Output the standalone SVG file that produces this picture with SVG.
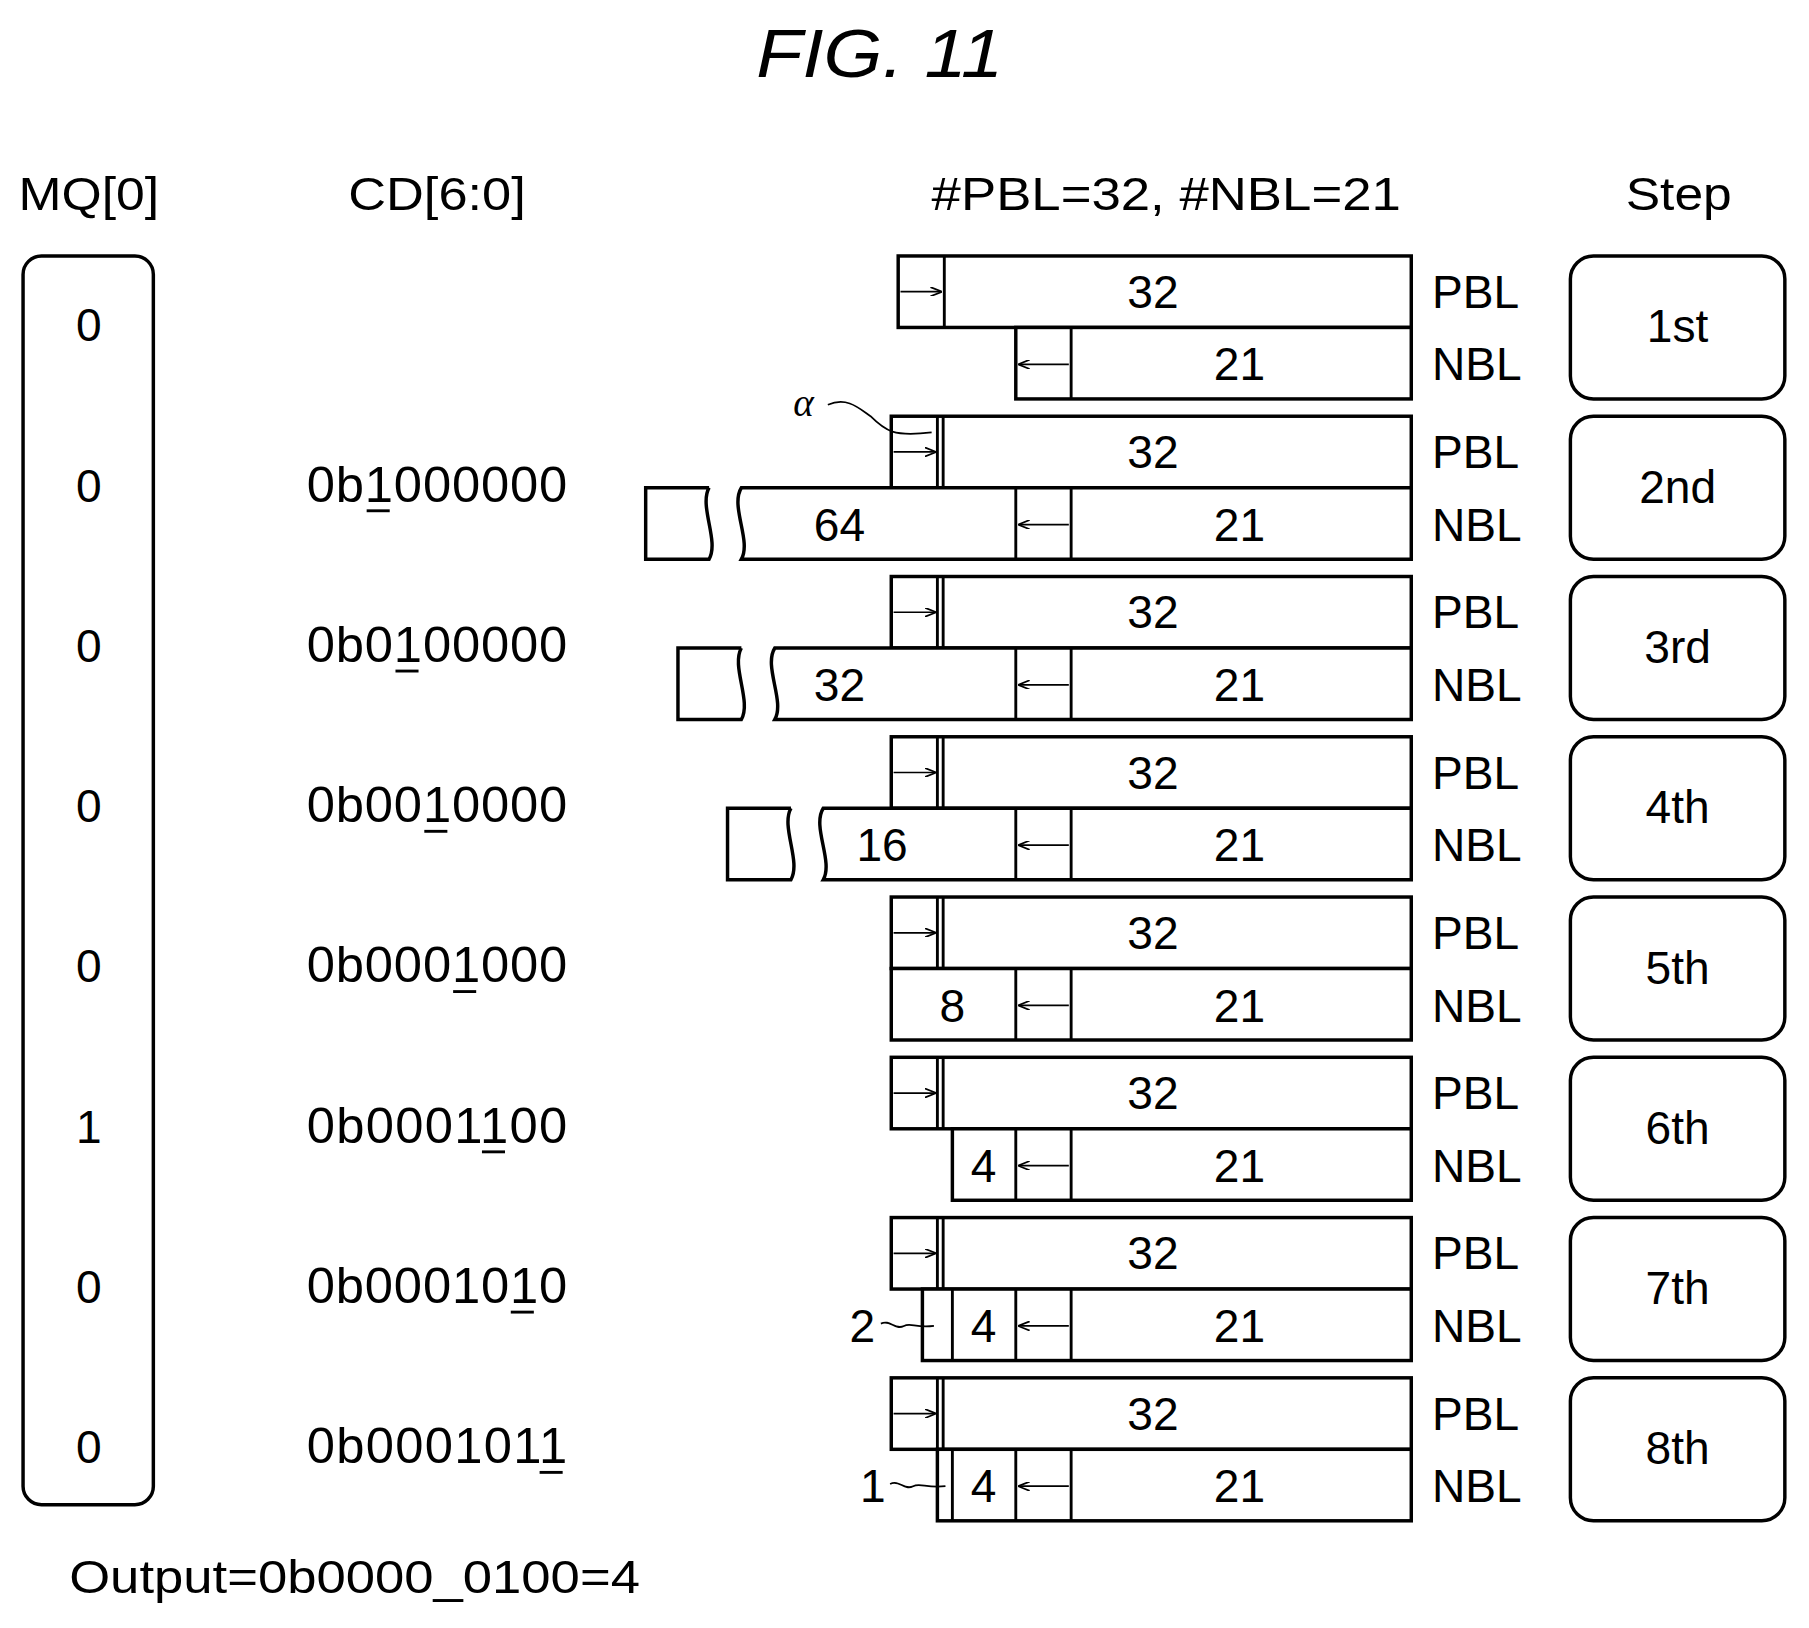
<svg xmlns="http://www.w3.org/2000/svg" width="1809" height="1628" viewBox="0 0 1809 1628">
<defs>
<marker id="ah" markerWidth="10" markerHeight="8" refX="9" refY="4" orient="auto" markerUnits="userSpaceOnUse"><path d="M0,0 L10,4 L0,8" fill="none" stroke="#000" stroke-width="1.5"/></marker>
</defs>
<style>
text{font-family:"Liberation Sans",Arial,sans-serif;fill:#000}
.t{font-size:40px;text-anchor:middle}
.l{font-size:40px}
.b{fill:#fff;stroke:#000;stroke-width:3}
.ln{stroke:#000;stroke-width:2.5;fill:none}
.th{stroke:#000;stroke-width:1.5;fill:none}
</style>
<rect width="1809" height="1628" fill="#fff"/>
<g transform="scale(1.153)">
<text x="656" y="67" font-size="60" font-style="italic" textLength="214" lengthAdjust="spacingAndGlyphs">FIG.  11</text>
<g id="headers">
<text class="l" x="16" y="182" textLength="122" lengthAdjust="spacingAndGlyphs">MQ[0]</text>
<text class="l" x="302" y="182" textLength="154" lengthAdjust="spacingAndGlyphs">CD[6:0]</text>
<text class="l" x="808" y="182" textLength="407" lengthAdjust="spacingAndGlyphs">#PBL=32, #NBL=21</text>
<text class="l" x="1410" y="182" textLength="92" lengthAdjust="spacingAndGlyphs">Step</text>
</g>
<g id="mq">
<rect class="b" x="20" y="222" width="113" height="1083" rx="16"/>
<text class="t" x="77" y="296">0</text>
<text class="t" x="77" y="435">0</text>
<text class="t" x="77" y="574">0</text>
<text class="t" x="77" y="713">0</text>
<text class="t" x="77" y="852">0</text>
<text class="t" x="77" y="991">1</text>
<text class="t" x="77" y="1130">0</text>
<text class="t" x="77" y="1269">0</text>
</g>
<g id="cd" font-size="44">
<text x="266" y="435" font-size="44" textLength="226">0b1000000</text><line class="ln" x1="318" y1="443" x2="338" y2="443"/>
<text x="266" y="574" font-size="44" textLength="226">0b0100000</text><line class="ln" x1="343" y1="582" x2="363" y2="582"/>
<text x="266" y="713" font-size="44" textLength="226">0b0010000</text><line class="ln" x1="368" y1="721" x2="388" y2="721"/>
<text x="266" y="852" font-size="44" textLength="226">0b0001000</text><line class="ln" x1="393" y1="860" x2="413" y2="860"/>
<text x="266" y="991" font-size="44" textLength="226">0b0001100</text><line class="ln" x1="418" y1="999" x2="438" y2="999"/>
<text x="266" y="1130" font-size="44" textLength="226">0b0001010</text><line class="ln" x1="443" y1="1138" x2="463" y2="1138"/>
<text x="266" y="1269" font-size="44" textLength="226">0b0001011</text><line class="ln" x1="468" y1="1277" x2="488" y2="1277"/>
</g>
<g id="step1">
<rect class="b" x="779" y="222" width="445" height="62"/><line class="ln" x1="819" y1="222" x2="819" y2="284"/>
<line class="th" x1="781" y1="253" x2="816" y2="253" marker-end="url(#ah)"/>
<text class="t" x="1000" y="267">32</text><text class="l" x="1242" y="267">PBL</text>
<rect class="b" x="881" y="284" width="343" height="62"/><line class="ln" x1="929" y1="284" x2="929" y2="346"/>
<line class="th" x1="927" y1="316" x2="884" y2="316" marker-end="url(#ah)"/>
<text class="t" x="1075" y="330">21</text><text class="l" x="1242" y="330">NBL</text>
<rect class="b" x="1362" y="222" width="186" height="124" rx="20"/><text class="t" x="1455" y="297">1st</text>
</g>
<g id="step2" transform="translate(0 139)">
<rect class="b" x="773" y="222" width="451" height="62"/><line class="ln" x1="813" y1="222" x2="813" y2="284"/><line class="ln" x1="818" y1="222" x2="818" y2="284"/>
<line class="th" x1="775" y1="253" x2="811" y2="253" marker-end="url(#ah)"/>
<text class="t" x="1000" y="267">32</text><text class="l" x="1242" y="267">PBL</text>
<path class="b" d="M1224 284 H643 C633 300 652 330 643 346 H1224 Z"/>
<path class="b" d="M615 284 H560 V346 H615 C624 330 606 300 615 284"/>
<line class="ln" x1="881" y1="284" x2="881" y2="346"/><line class="ln" x1="929" y1="284" x2="929" y2="346"/>
<line class="th" x1="927" y1="316" x2="884" y2="316" marker-end="url(#ah)"/>
<text class="t" x="728" y="330">64</text>
<text class="t" x="1075" y="330">21</text><text class="l" x="1242" y="330">NBL</text>
<text x="688" y="222" font-size="34" font-style="italic" style="font-family:'Liberation Serif',serif">α</text>
<path class="th" d="M718 212 C735 205 745 215 755 222 C768 235 775 240 808 236"/>
<rect class="b" x="1362" y="222" width="186" height="124" rx="20"/><text class="t" x="1455" y="297">2nd</text>
</g>
<g id="step3" transform="translate(0 278)">
<rect class="b" x="773" y="222" width="451" height="62"/><line class="ln" x1="813" y1="222" x2="813" y2="284"/><line class="ln" x1="818" y1="222" x2="818" y2="284"/>
<line class="th" x1="775" y1="253" x2="811" y2="253" marker-end="url(#ah)"/>
<text class="t" x="1000" y="267">32</text><text class="l" x="1242" y="267">PBL</text>
<path class="b" d="M1224 284 H672 C662 300 681 330 672 346 H1224 Z"/>
<path class="b" d="M643 284 H588 V346 H643 C652 330 634 300 643 284"/>
<line class="ln" x1="881" y1="284" x2="881" y2="346"/><line class="ln" x1="929" y1="284" x2="929" y2="346"/>
<line class="th" x1="927" y1="316" x2="884" y2="316" marker-end="url(#ah)"/>
<text class="t" x="728" y="330">32</text>
<text class="t" x="1075" y="330">21</text><text class="l" x="1242" y="330">NBL</text>
<rect class="b" x="1362" y="222" width="186" height="124" rx="20"/><text class="t" x="1455" y="297">3rd</text>
</g>
<g id="step4" transform="translate(0 417)">
<rect class="b" x="773" y="222" width="451" height="62"/><line class="ln" x1="813" y1="222" x2="813" y2="284"/><line class="ln" x1="818" y1="222" x2="818" y2="284"/>
<line class="th" x1="775" y1="253" x2="811" y2="253" marker-end="url(#ah)"/>
<text class="t" x="1000" y="267">32</text><text class="l" x="1242" y="267">PBL</text>
<path class="b" d="M1224 284 H714 C704 300 723 330 714 346 H1224 Z"/>
<path class="b" d="M686 284 H631 V346 H686 C695 330 677 300 686 284"/>
<line class="ln" x1="881" y1="284" x2="881" y2="346"/><line class="ln" x1="929" y1="284" x2="929" y2="346"/>
<line class="th" x1="927" y1="316" x2="884" y2="316" marker-end="url(#ah)"/>
<text class="t" x="765" y="330">16</text>
<text class="t" x="1075" y="330">21</text><text class="l" x="1242" y="330">NBL</text>
<rect class="b" x="1362" y="222" width="186" height="124" rx="20"/><text class="t" x="1455" y="297">4th</text>
</g>
<g id="step5" transform="translate(0 556)">
<rect class="b" x="773" y="222" width="451" height="62"/><line class="ln" x1="813" y1="222" x2="813" y2="284"/><line class="ln" x1="818" y1="222" x2="818" y2="284"/>
<line class="th" x1="775" y1="253" x2="811" y2="253" marker-end="url(#ah)"/>
<text class="t" x="1000" y="267">32</text><text class="l" x="1242" y="267">PBL</text>
<rect class="b" x="773" y="284" width="451" height="62"/>
<line class="ln" x1="881" y1="284" x2="881" y2="346"/><line class="ln" x1="929" y1="284" x2="929" y2="346"/>
<line class="th" x1="927" y1="316" x2="884" y2="316" marker-end="url(#ah)"/>
<text class="t" x="826" y="330">8</text>
<text class="t" x="1075" y="330">21</text><text class="l" x="1242" y="330">NBL</text>
<rect class="b" x="1362" y="222" width="186" height="124" rx="20"/><text class="t" x="1455" y="297">5th</text>
</g>
<g id="step6" transform="translate(0 695)">
<rect class="b" x="773" y="222" width="451" height="62"/><line class="ln" x1="813" y1="222" x2="813" y2="284"/><line class="ln" x1="818" y1="222" x2="818" y2="284"/>
<line class="th" x1="775" y1="253" x2="811" y2="253" marker-end="url(#ah)"/>
<text class="t" x="1000" y="267">32</text><text class="l" x="1242" y="267">PBL</text>
<rect class="b" x="826" y="284" width="398" height="62"/>
<line class="ln" x1="881" y1="284" x2="881" y2="346"/><line class="ln" x1="929" y1="284" x2="929" y2="346"/>
<line class="th" x1="927" y1="316" x2="884" y2="316" marker-end="url(#ah)"/>
<text class="t" x="853" y="330">4</text>
<text class="t" x="1075" y="330">21</text><text class="l" x="1242" y="330">NBL</text>
<rect class="b" x="1362" y="222" width="186" height="124" rx="20"/><text class="t" x="1455" y="297">6th</text>
</g>
<g id="step7" transform="translate(0 834)">
<rect class="b" x="773" y="222" width="451" height="62"/><line class="ln" x1="813" y1="222" x2="813" y2="284"/><line class="ln" x1="818" y1="222" x2="818" y2="284"/>
<line class="th" x1="775" y1="253" x2="811" y2="253" marker-end="url(#ah)"/>
<text class="t" x="1000" y="267">32</text><text class="l" x="1242" y="267">PBL</text>
<rect class="b" x="800" y="284" width="424" height="62"/><line class="ln" x1="826" y1="284" x2="826" y2="346"/>
<line class="ln" x1="881" y1="284" x2="881" y2="346"/><line class="ln" x1="929" y1="284" x2="929" y2="346"/>
<line class="th" x1="927" y1="316" x2="884" y2="316" marker-end="url(#ah)"/>
<text class="t" x="853" y="330">4</text>
<text class="t" x="748" y="330">2</text>
<path class="th" d="M764 314 C772 310 776 320 784 316 C790 313 794 318 810 316"/>
<text class="t" x="1075" y="330">21</text><text class="l" x="1242" y="330">NBL</text>
<rect class="b" x="1362" y="222" width="186" height="124" rx="20"/><text class="t" x="1455" y="297">7th</text>
</g>
<g id="step8" transform="translate(0 973)">
<rect class="b" x="773" y="222" width="451" height="62"/><line class="ln" x1="813" y1="222" x2="813" y2="284"/><line class="ln" x1="818" y1="222" x2="818" y2="284"/>
<line class="th" x1="775" y1="253" x2="811" y2="253" marker-end="url(#ah)"/>
<text class="t" x="1000" y="267">32</text><text class="l" x="1242" y="267">PBL</text>
<rect class="b" x="813" y="284" width="411" height="62"/><line class="ln" x1="826" y1="284" x2="826" y2="346"/>
<line class="ln" x1="881" y1="284" x2="881" y2="346"/><line class="ln" x1="929" y1="284" x2="929" y2="346"/>
<line class="th" x1="927" y1="316" x2="884" y2="316" marker-end="url(#ah)"/>
<text class="t" x="853" y="330">4</text>
<text class="t" x="757" y="330">1</text>
<path class="th" d="M772 314 C780 310 784 320 792 316 C798 313 804 318 820 316"/>
<text class="t" x="1075" y="330">21</text><text class="l" x="1242" y="330">NBL</text>
<rect class="b" x="1362" y="222" width="186" height="124" rx="20"/><text class="t" x="1455" y="297">8th</text>
</g>
<text class="l" x="60" y="1382" textLength="495" lengthAdjust="spacingAndGlyphs">Output=0b0000_0100=4</text>
</g>
</svg>
